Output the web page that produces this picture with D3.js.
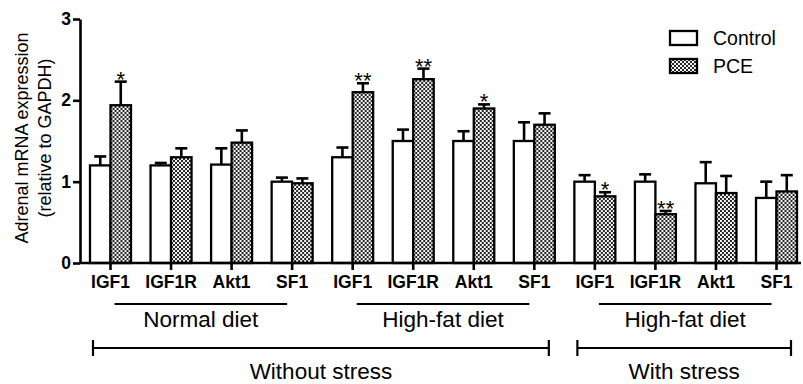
<!DOCTYPE html>
<html>
<head>
<meta charset="utf-8">
<script src="https://cdn.jsdelivr.net/npm/d3@7"></script>
<style>
 body { margin: 0; background: #fff; }
 svg { display: block; font-family: "Liberation Sans", Arial, sans-serif; }
 .axis path, .axis line { stroke: #000; stroke-width: 2.6; }
 .axis text { font-size: 17.5px; font-weight: bold; fill: #000; }
 .bar { stroke: #000; stroke-width: 2.3; }
 .err { stroke: #000; stroke-width: 2.6; fill: none; }
 .mark { stroke: #000; stroke-width: 2.2; }
</style>
</head>
<body>
<svg width="803" height="384"></svg>
<script>
const genes = ["IGF1", "IGF1R", "Akt1", "SF1"];
const conditions = ["Normal diet", "High-fat diet", "High-fat diet, stress"];
const series = ["Control", "PCE"];

const controlMean = [1.20, 1.20, 1.21, 1.00, 1.30, 1.50, 1.50, 1.50, 1.00, 1.00, 0.98, 0.80];
const controlErr = [0.11, 0.03, 0.20, 0.05, 0.12, 0.14, 0.12, 0.23, 0.08, 0.09, 0.26, 0.20];
const pceMean = [1.94, 1.30, 1.48, 0.98, 2.10, 2.26, 1.90, 1.70, 0.82, 0.60, 0.86, 0.88];
const pceErr = [0.29, 0.11, 0.15, 0.06, 0.11, 0.13, 0.05, 0.14, 0.05, 0.04, 0.21, 0.20];
const signif = ["*", "", "", "", "**", "**", "*", "", "*", "**", "", ""];

const yTicks = [0, 1, 2, 3];
const dietLabels = ["Normal diet", "High-fat diet", "High-fat diet"];
const stressLabels = ["Without stress", "With stress"];
const stressGroups = [[0, 1], [2]];

// one entry per gene x condition
const groups = [];
conditions.forEach((c, ci) => genes.forEach((g, gi) => groups.push({ id: c + "|" + g, gene: g, cond: ci })));
groups.forEach((d, i) => {
 d.values = [
  { s: "Control", mean: controlMean[i], err: controlErr[i] },
  { s: "PCE", mean: pceMean[i], err: pceErr[i], sig: signif[i] }
 ];
});

const svg = d3.select("svg");

const defs = svg.append("defs");
const pat = defs.append("pattern")
 .attr("id", "checker")
 .attr("patternUnits", "userSpaceOnUse")
 .attr("width", 4)
 .attr("height", 4);
pat.append("rect").attr("width", 4).attr("height", 4).attr("fill", "#262626");
pat.append("rect").attr("x", 0).attr("y", 0).attr("width", 2).attr("height", 2).attr("fill", "#f4f4f4");
pat.append("rect").attr("x", 2).attr("y", 2).attr("width", 2).attr("height", 2).attr("fill", "#f4f4f4");

const x = d3.scaleBand()
 .domain(groups.map(d => d.id))
 .range([90, 797])
 .paddingInner(0.323)
 .paddingOuter(0);

const xs = d3.scaleBand()
 .domain(series)
 .range([0, x.bandwidth()]);

const y = d3.scaleLinear()
 .domain([0, 3])
 .range([263, 19]);

// y axis
svg.append("g")
 .attr("class", "axis")
 .attr("transform", "translate(80,0)")
 .call(d3.axisLeft(y).tickValues(yTicks).tickSize(7).tickSizeOuter(0).tickPadding(2).tickFormat(d3.format("d")));

// bars
const g = svg.selectAll(".grp")
 .data(groups)
 .enter()
 .append("g")
 .attr("class", "grp")
 .attr("transform", d => `translate(${x(d.id)},0)`);

const cell = g.selectAll(".cell")
 .data(d => d.values)
 .enter()
 .append("g")
 .attr("class", "cell")
 .attr("transform", d => `translate(${xs(d.s)},0)`);

cell.append("line")
 .attr("class", "err")
 .attr("x1", xs.bandwidth() / 2)
 .attr("x2", xs.bandwidth() / 2)
 .attr("y1", d => y(d.mean))
 .attr("y2", d => y(d.mean + d.err));

cell.append("line")
 .attr("class", "err")
 .attr("x1", xs.bandwidth() / 2 - 6)
 .attr("x2", xs.bandwidth() / 2 + 6)
 .attr("y1", d => y(d.mean + d.err))
 .attr("y2", d => y(d.mean + d.err));

cell.append("rect")
 .attr("class", "bar")
 .attr("x", 0)
 .attr("width", xs.bandwidth())
 .attr("y", d => y(d.mean))
 .attr("height", d => y(0) - y(d.mean))
 .attr("fill", d => d.s === "PCE" ? "url(#checker)" : "#fff");

cell.filter(d => d.sig)
 .append("text")
 .text(d => d.sig)
 .attr("x", xs.bandwidth() / 2)
 .attr("y", d => y(d.mean + d.err) + 5)
 .attr("text-anchor", "middle")
 .attr("font-size", 22);

// x axis
const xAxis = svg.append("g")
 .attr("class", "axis")
 .attr("transform", `translate(0,${y(0)})`)
 .call(d3.axisBottom(x).tickSize(7).tickSizeOuter(0).tickPadding(6).tickFormat(id => id.split("|")[1]));
xAxis.select(".domain").attr("d", "M80,0H801");

// diet brackets
const mid = i => x(groups[i].id) + x.bandwidth() / 2;
dietLabels.forEach((lab, ci) => {
 const x1 = mid(ci * 4) + 4;
 const x2 = mid(ci * 4 + 3) - 5;
 svg.append("line").attr("class", "mark")
  .attr("x1", x1).attr("x2", x2).attr("y1", 304).attr("y2", 304);
 svg.append("text")
  .text(lab)
  .attr("x", (x1 + x2) / 2)
  .attr("y", 327)
  .attr("text-anchor", "middle")
  .attr("font-size", 22.5);
});

// stress brackets
stressLabels.forEach((lab, si) => {
 const cs = stressGroups[si];
 const x1 = x(groups[cs[0] * 4].id) + 3;
 const x2 = x(groups[cs[cs.length - 1] * 4 + 3].id) + x.bandwidth() - 6;
 const b = svg.append("g").attr("class", "mark");
 b.append("line").attr("x1", x1).attr("x2", x2).attr("y1", 348).attr("y2", 348);
 b.append("line").attr("x1", x1).attr("x2", x1).attr("y1", 340).attr("y2", 356);
 b.append("line").attr("x1", x2).attr("x2", x2).attr("y1", 340).attr("y2", 356);
 svg.append("text")
  .text(lab)
  .attr("x", (x1 + x2) / 2)
  .attr("y", 379)
  .attr("text-anchor", "middle")
  .attr("font-size", 22.5);
});

// y title
const title = svg.append("text")
 .attr("transform", "translate(28,138) rotate(-90)")
 .attr("text-anchor", "middle")
 .attr("font-size", 18);
title.append("tspan").attr("x", 0).attr("dy", 0).text("Adrenal mRNA expression");
title.append("tspan").attr("x", 0).attr("dy", 23).text("(relative to GAPDH)");

// legend
const legend = svg.append("g").attr("transform", "translate(670,31)");
const li = legend.selectAll("g")
 .data(series)
 .enter()
 .append("g")
 .attr("transform", (d, i) => `translate(0,${i * 28})`);
li.append("rect")
 .attr("class", "bar")
 .attr("width", 27)
 .attr("height", 14)
 .attr("fill", d => d === "PCE" ? "url(#checker)" : "#fff");
li.append("text")
 .text(d => d)
 .attr("x", 43)
 .attr("y", 14)
 .attr("font-size", 19.5);
</script>
</body>
</html>
